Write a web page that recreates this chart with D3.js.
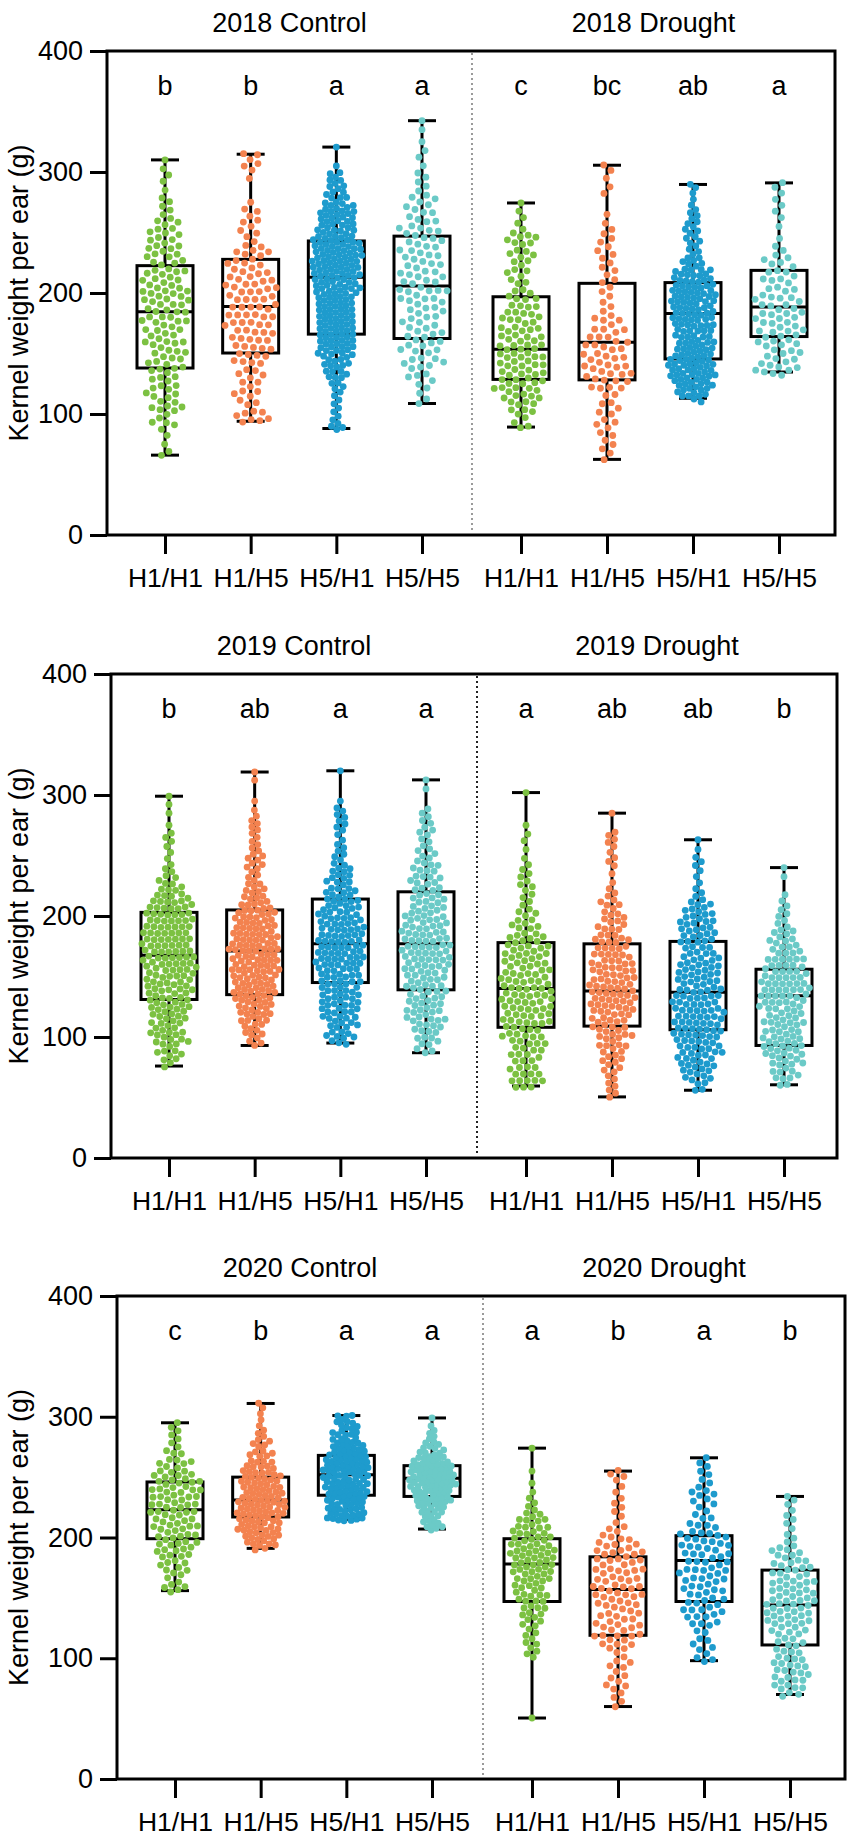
<!DOCTYPE html>
<html>
<head>
<meta charset="utf-8">
<script src="https://cdn.jsdelivr.net/npm/d3@7"></script>
<style>
  body { margin: 0; background: #fff; }
  text { font-family: Arial, "Liberation Sans", sans-serif; fill: #000; }
</style>
</head>
<body>
<div id="viz"></div>
<script>
// set up width and height
const width = 851;
const height = 1843;

// ---- data ----
const years = ["2018", "2019", "2020"];
const treatments = ["Control", "Drought"];
const genotypes = ["H1/H1", "H1/H5", "H5/H1", "H5/H5"];

// significance letters, 4 control then 4 drought
const letters2018 = ["b", "b", "a", "a", "c", "bc", "ab", "a"];
const letters2019 = ["b", "ab", "a", "a", "a", "ab", "ab", "b"];
const letters2020 = ["c", "b", "a", "a", "a", "b", "a", "b"];

// box stats [min, q1, median, q3, max]
const box2018 = [
  [66, 138, 184.5, 222.6, 310], [94, 150.4, 188.8, 227.8, 314.7],
  [88, 166, 213, 243, 320.6], [108.7, 162.4, 205.7, 247, 342.4],
  [89.2, 128.6, 153.6, 196.9, 274.4], [62.5, 128.2, 159.2, 208, 305.6],
  [113, 145.5, 183, 208.6, 289.7], [134.7, 164, 188.4, 218.7, 291]
];
const box2019 = [
  [76, 131, 167.5, 203, 299], [93, 135, 171, 205, 319],
  [95, 145, 177, 214, 320], [87, 139, 177, 220, 312.5],
  [59.5, 108, 140, 178, 302], [50.5, 109, 138, 177, 285],
  [56, 106, 137, 179, 263], [60.5, 93, 134, 156, 240]
];
const box2020 = [
  [156, 199, 223, 246, 295], [191, 217, 231, 250, 311],
  [215, 235, 252, 268, 301], [207, 234, 249, 259.5, 299],
  [50.5, 147, 178, 199, 274], [60, 119, 157, 184, 255],
  [98, 147, 181, 201.5, 266], [70, 111, 144, 173, 234]
];

// dots: number of points per 10 g bin, first bin starts at binStart
const binStart2018 = [60, 90, 80, 100, 80, 60, 110, 130];
const counts2018 = [
  [2,1,2,4,7,6,5,7,7,7,8,8,8,10,9,8,6,8,6,6,3,3,1,2,2],
  [6,4,4,5,4,6,8,8,9,8,9,9,8,7,6,3,3,4,1,0,1,3,3],
  [3,3,3,3,5,8,10,12,14,14,14,14,15,18,18,18,14,14,14,8,6,6,1,1],
  [1,2,3,5,7,6,8,5,7,8,8,7,7,7,8,6,5,5,3,3,1,2,1,1,1],
  [2,2,6,9,11,9,10,10,9,8,8,6,4,4,5,5,7,2,2,1],
  [2,3,3,4,3,3,8,8,8,7,7,5,3,2,3,3,3,3,3,2,1,0,2,1,2],
  [8,14,18,18,12,12,14,16,16,16,12,8,4,5,5,4,2,2,1],
  [8,6,6,9,9,8,7,6,6,5,3,1,1,2,2,2,1]
];
const binStart2019 = [70, 90, 90, 80, 50, 50, 50, 60];
const counts2019 = [
  [2,6,8,10,10,11,12,13,14,14,14,14,14,13,11,5,4,2,2,3,1,1,2],
  [4,6,9,12,14,14,16,17,16,14,14,12,8,6,4,6,4,3,4,2,1,0,2],
  [5,8,10,12,12,12,14,14,16,14,14,12,10,8,8,4,4,2,4,4,1,0,1],
  [2,5,8,10,10,10,10,12,14,14,12,12,10,8,8,8,6,4,4,4,3,0,1,1],
  [1,10,6,8,8,10,12,12,12,12,12,10,10,8,6,4,3,4,3,2,1,2,1,0,0,1],
  [4,3,5,6,8,10,10,12,14,12,12,10,10,8,6,6,4,2,1,3,2,4,0,1],
  [2,6,10,12,12,14,14,14,12,12,12,10,8,10,10,8,4,2,2,3,1,1],
  [6,8,10,12,10,10,12,14,14,11,10,8,6,4,3,2,0,2]
];
const binStart2020 = [150, 190, 210, 200, 50, 60, 90, 70];
const counts2020 = [
  [4,4,6,8,10,10,10,12,12,12,8,6,3,3,2],
  [10,14,16,18,18,14,12,8,6,4,2,2,1],
  [12,14,18,20,22,18,14,10,8,2],
  [4,8,12,18,24,22,14,8,4,2],
  [1,0,0,0,0,4,4,4,6,8,8,10,12,14,12,10,8,3,2,1,1,0,1],
  [3,4,4,4,3,10,8,8,8,10,10,10,10,8,4,2,3,2,2,3],
  [2,4,3,4,8,8,8,8,10,10,10,8,4,3,6,3,3,2],
  [8,8,10,6,6,8,12,12,10,10,8,8,4,2,3,2,2]
];

const yTicks = [0, 100, 200, 300, 400];

// ---- layout ----
const colors = ["#7cc142", "#f3824f", "#1e9bcd", "#6bcac7"];
const panelTop = [51, 674, 1296];
const panelBottom = [535, 1158, 1779];
const panelLeft = [107, 111, 117];
const panelRight = [835, 837, 845];
const dividerX = [472, 477, 483];
const dividerColor = ["#9a9a9a", "#222", "#9a9a9a"];
const dotR = 3.4;

const lettersByYear = [letters2018, letters2019, letters2020];
const boxByYear = [box2018, box2019, box2020];
const startByYear = [binStart2018, binStart2019, binStart2020];
const countsByYear = [counts2018, counts2019, counts2020];

const svg = d3.select("#viz").append("svg")
  .attr("width", width)
  .attr("height", height);

// turn the bin counts into point values
function expand(start, counts, stats) {
  let vals = [];
  counts.forEach((n, k) => {
    let lo = Math.max(start + k * 10, stats[0]);
    let hi = Math.min(start + k * 10 + 10, stats[4]);
    for (let j = 0; j < n; j++) vals.push(lo + (hi - lo) * (j + 0.5) / n);
  });
  vals.sort(d3.ascending);
  vals[0] = stats[0];
  vals[vals.length - 1] = stats[4];
  return vals;
}

years.forEach((yr, p) => {
  const top = panelTop[p], bottom = panelBottom[p];
  const left = panelLeft[p], right = panelRight[p], div = dividerX[p];

  const y = d3.scaleLinear().domain([0, 400]).range([bottom, top]);
  const xC = d3.scalePoint().domain(genotypes).range([left + 58, left + 315]);
  const xD = d3.scalePoint().domain(genotypes).range([div + 49, div + 307]);

  const g = svg.append("g");

  // titles
  g.selectAll(".title")
    .data(treatments)
    .join("text")
    .attr("x", (d, i) => i === 0 ? (left + div) / 2 : (div + right) / 2)
    .attr("y", top - 19)
    .attr("text-anchor", "middle")
    .style("font-size", "27px")
    .text(d => yr + " " + d);

  // y axis
  const yAxis = g.append("g")
    .attr("transform", `translate(${left},0)`)
    .call(d3.axisLeft(y).tickValues(yTicks).tickSize(17).tickSizeOuter(0).tickPadding(7));
  yAxis.select(".domain").remove();
  yAxis.selectAll("line").attr("stroke", "#000").attr("stroke-width", 3);
  yAxis.selectAll("text").style("font-size", "27px").attr("font-family", null);

  // x axes
  [xC, xD].forEach(xs => {
    const xa = g.append("g")
      .attr("transform", `translate(0,${bottom})`)
      .call(d3.axisBottom(xs).tickSize(19).tickSizeOuter(0).tickPadding(14));
    xa.select(".domain").remove();
    xa.selectAll("line").attr("stroke", "#000").attr("stroke-width", 3);
    xa.selectAll("text").style("font-size", "26.5px").attr("font-family", null);
  });

  // y label
  g.append("text")
    .attr("transform", `translate(28,${(top + bottom) / 2}) rotate(-90)`)
    .attr("text-anchor", "middle")
    .style("font-size", "27px")
    .text("Kernel weight per ear (g)");

  // divider
  g.append("line")
    .attr("x1", div).attr("x2", div)
    .attr("y1", top + 2).attr("y2", bottom - 2)
    .attr("stroke", dividerColor[p])
    .attr("stroke-width", 2)
    .attr("stroke-dasharray", "2,3");

  // groups
  const groups = d3.range(8).map(i => ({
    i: i,
    cx: i < 4 ? xC(genotypes[i]) : xD(genotypes[i - 4]),
    color: colors[i % 4],
    stats: boxByYear[p][i],
    letter: lettersByYear[p][i],
    vals: expand(startByYear[p][i], countsByYear[p][i], boxByYear[p][i]),
    maxBin: d3.max(countsByYear[p][i])
  }));

  groups.forEach(grp => {
    const s = grp.stats;
    const bw = 28, cw = 14;
    const bg = g.append("g")
      .attr("fill", "none")
      .attr("stroke", "#000")
      .attr("stroke-width", 3);
    // whiskers
    bg.append("line").attr("x1", grp.cx).attr("x2", grp.cx).attr("y1", y(s[4])).attr("y2", y(s[3]));
    bg.append("line").attr("x1", grp.cx).attr("x2", grp.cx).attr("y1", y(s[1])).attr("y2", y(s[0]));
    bg.append("line").attr("x1", grp.cx - cw).attr("x2", grp.cx + cw).attr("y1", y(s[4])).attr("y2", y(s[4]));
    bg.append("line").attr("x1", grp.cx - cw).attr("x2", grp.cx + cw).attr("y1", y(s[0])).attr("y2", y(s[0]));
    // box
    bg.append("rect")
      .attr("x", grp.cx - bw).attr("width", bw * 2)
      .attr("y", y(s[3])).attr("height", y(s[1]) - y(s[3]));
    bg.append("line").attr("x1", grp.cx - bw).attr("x2", grp.cx + bw).attr("y1", y(s[2])).attr("y2", y(s[2]));

    // beeswarm dots
    const spacing = Math.max(5, Math.min(9, Math.sqrt(50 * 12.1 / (0.866 * grp.maxBin))));
    const nodes = grp.vals.map((v, k) => ({
      v: v,
      x: grp.cx + ((k % 2) ? 1 : -1) * (k % 7),
      y: y(v)
    }));
    const sim = d3.forceSimulation(nodes)
      .force("x", d3.forceX(grp.cx).strength(0.08))
      .force("y", d3.forceY(d => y(d.v)).strength(0.9))
      .force("collide", d3.forceCollide(spacing / 2).iterations(2))
      .stop();
    for (let t = 0; t < 250; t++) sim.tick();

    g.append("g")
      .selectAll("circle")
      .data(nodes)
      .join("circle")
      .attr("cx", d => d.x)
      .attr("cy", d => d.y)
      .attr("r", dotR)
      .style("fill", grp.color);

    // letter
    g.append("text")
      .attr("x", grp.cx)
      .attr("y", top + 44)
      .attr("text-anchor", "middle")
      .style("font-size", "27px")
      .text(grp.letter);
  });

  // frame
  g.append("rect")
    .attr("x", left).attr("y", top)
    .attr("width", right - left).attr("height", bottom - top)
    .attr("fill", "none")
    .attr("stroke", "#000")
    .attr("stroke-width", 3);
});
</script>
</body>
</html>
